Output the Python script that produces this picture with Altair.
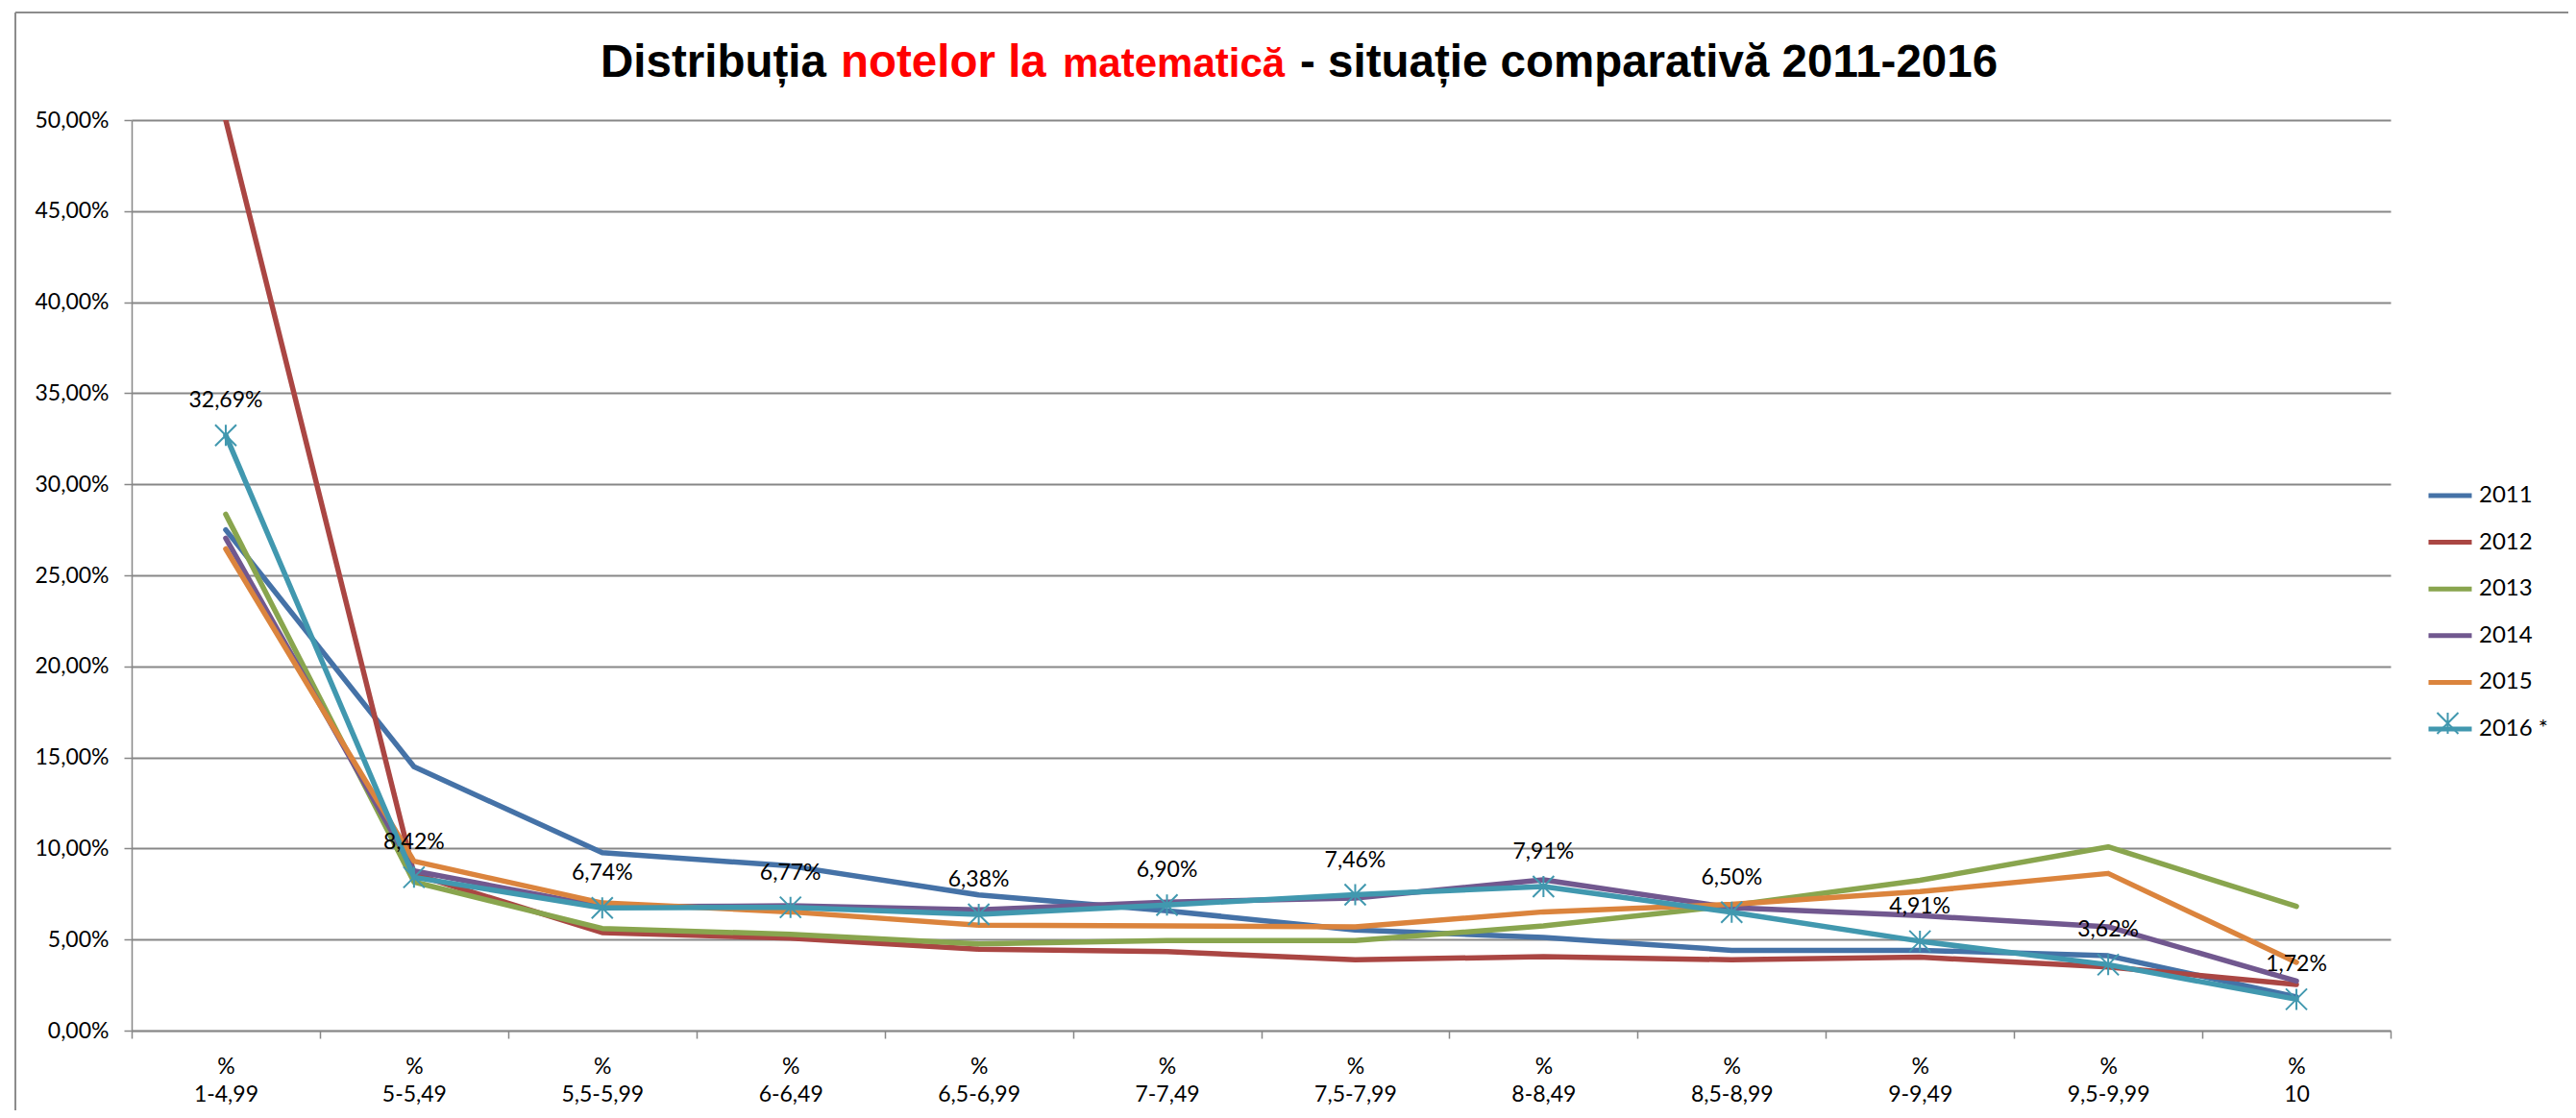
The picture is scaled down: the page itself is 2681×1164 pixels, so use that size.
import altair as alt
import pandas as pd

categories = ["1-4,99", "5-5,49", "5,5-5,99", "6-6,49", "6,5-6,99", "7-7,49",
              "7,5-7,99", "8-8,49", "8,5-8,99", "9-9,49", "9,5-9,99", "10"]
years = ["2011", "2012", "2013", "2014", "2015", "2016 *"]

v2011 = [27.50, 14.49, 9.77, 9.04, 7.45, 6.58, 5.52, 5.12, 4.41, 4.41, 4.11, 1.85]
v2012 = [50.00, 8.60, 5.38, 5.08, 4.47, 4.34, 3.89, 4.06, 3.89, 4.03, 3.50, 2.53]
v2013 = [28.35, 8.16, 5.61, 5.29, 4.76, 4.94, 4.94, 5.75, 6.87, 8.25, 10.09, 6.82]
v2014 = [27.04, 8.77, 6.80, 6.85, 6.63, 7.05, 7.28, 8.28, 6.75, 6.31, 5.70, 2.72]
v2015 = [26.45, 9.30, 7.01, 6.52, 5.79, 5.75, 5.70, 6.52, 6.93, 7.63, 8.63, 3.75]
v2016 = [32.69, 8.42, 6.74, 6.77, 6.38, 6.90, 7.46, 7.91, 6.50, 4.91, 3.62, 1.72]

series = [v2011, v2012, v2013, v2014, v2015, v2016]
colors = ["#4572A7", "#AA4643", "#89A54E", "#71588F", "#DB843D", "#4198AF"]

rows = []
for yr, vals in zip(years, series):
    for i, (c, v) in enumerate(zip(categories, vals)):
        rows.append({"cat": c, "year": yr, "v": v, "idx": i})
df = pd.DataFrame(rows)

W, H = 2351, 948
GRID = "#878787"
STAR = "M-1,-1L1,1M-1,1L1,-1M0,-1L0,1"

x_enc = alt.X(
    "cat:N", sort=categories, bandPosition=0.5,
    scale=alt.Scale(type="band", domain=categories, paddingInner=0, paddingOuter=0),
    axis=alt.Axis(
        title=None, labelAngle=0, tickBand="extent", tickSize=8, tickColor=GRID,
        tickWidth=1.5, domainColor=GRID, domainWidth=1.5, grid=False,
        labelExpr="isValid(datum.label) && datum.label != '' ? ['%', datum.label] : ''",
        labelFont="Lato", labelFontSize=23,
        labelColor="black", labelLineHeight=29, labelPadding=18,
    ),
)
y_enc = alt.Y(
    "v:Q",
    scale=alt.Scale(domain=[0, 50], nice=False),
    axis=alt.Axis(
        title=None, values=list(range(0, 51, 5)),
        labelExpr="replace(format(datum.value, '.2f'), '.', ',') + '%'",
        labelFont="Lato", labelFontSize=23, labelColor="black", labelPadding=16,
        tickSize=8, tickColor=GRID, tickWidth=1.5, domainColor=GRID, domainWidth=1.5,
        grid=True, gridColor=GRID, gridWidth=2,
    ),
)

LEG_X, LEG_Y, ROW_PAD = 2388, 366, 11.6
ROW_STEP = 36 + ROW_PAD

base = alt.Chart(df)

lines = base.mark_line(strokeWidth=5.5, strokeJoin="round", strokeCap="round", clip=True).encode(
    x=x_enc, y=y_enc,
    color=alt.Color(
        "year:N",
        scale=alt.Scale(domain=years, range=colors),
        legend=alt.Legend(
            title=None, orient="none", legendX=LEG_X, legendY=LEG_Y,
            symbolType="stroke", symbolStrokeWidth=5, symbolSize=2025,
            labelFont="Lato", labelFontSize=24, labelColor="black",
            rowPadding=ROW_PAD, labelOffset=5, padding=0,
        ),
    ),
    order="idx:Q",
)

stars = base.transform_filter(alt.datum.year == "2016 *").mark_point(
    shape=STAR, filled=False, size=484, strokeWidth=2, color="#4198AF", opacity=1
).encode(x=x_enc, y=y_enc)

labels = base.transform_filter(alt.datum.year == "2016 *").transform_calculate(
    lab="replace(format(datum.v, '.2f'), '.', ',') + '%'"
).mark_text(dy=-36, font="Lato", fontSize=23, color="black", baseline="middle").encode(
    x=x_enc, y=y_enc, text="lab:N"
)

one = alt.Data(values=[{"a": 1}])

legend_star = alt.Chart(one).mark_point(
    shape=STAR, filled=False, size=484, strokeWidth=2, color="#4198AF", opacity=1
).encode(x=alt.value(LEG_X + 22.5), y=alt.value(LEG_Y + 24 + 5 * ROW_STEP))

title_parts = [
    ("Distribuția", 488, 47.5, "black"),
    ("notelor la", 738, 47.5, "#FF0000"),
    ("matematică", 969, 42, "#FF0000"),
    ("- situație comparativă 2011-2016", 1216, 47.5, "black"),
]
title_layers = [
    alt.Chart(one).mark_text(
        text=t, font="Liberation Sans", fontWeight="bold", fontSize=fs, color=col,
        align="left", baseline="alphabetic"
    ).encode(x=alt.value(xp), y=alt.value(-45))
    for t, xp, fs, col in title_parts
]

border_left = alt.Chart(one).mark_rule(color="#8c8c8c", strokeWidth=2).encode(
    x=alt.value(-121), y=alt.value(-112), y2=alt.value(H + 300)
)
border_top = alt.Chart(one).mark_rule(color="#8c8c8c", strokeWidth=2).encode(
    x=alt.value(-121), x2=alt.value(2700), y=alt.value(-112)
)

chart = alt.layer(
    border_left, border_top, lines, stars, labels, legend_star, *title_layers
).properties(
    width=W, height=H,
    padding={"left": 129, "top": 117, "right": 185, "bottom": 83},
    autosize=alt.AutoSizeParams(type="none"),
    background="white",
).configure_view(stroke="transparent")

chart.save("out.html", embed_options={"renderer": "svg", "actions": False})
